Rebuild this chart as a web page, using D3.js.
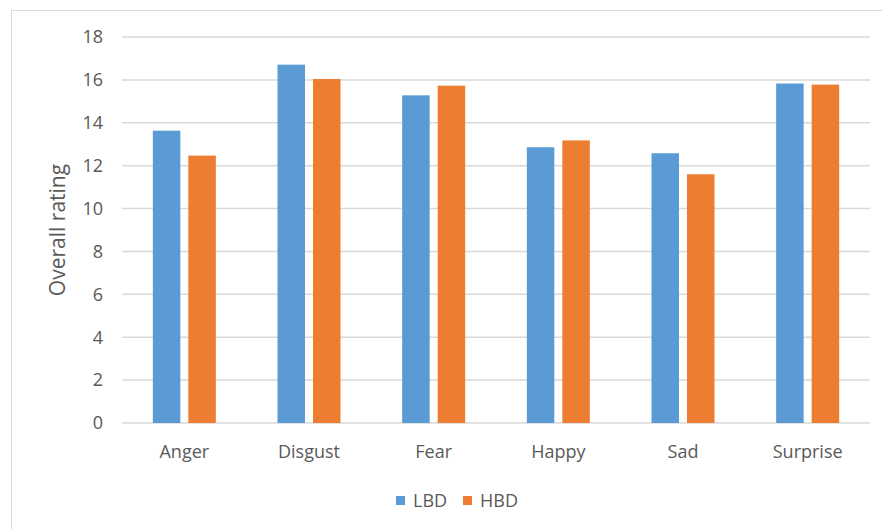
<!DOCTYPE html>
<html>
<head>
<meta charset="utf-8">
<script src="https://cdn.jsdelivr.net/npm/d3@7"></script>
<style>
    body { margin: 0; background: #fff; }
    svg text { font-family: "Open Sans", "Liberation Sans", sans-serif; fill: #595959; }
</style>
</head>
<body>
<svg id="chart" width="882" height="529"></svg>
<script>
var categories = ['Anger', 'Disgust', 'Fear', 'Happy', 'Sad', 'Surprise'];
var seriesNames = ['LBD', 'HBD'];
var lbdValues = [13.63, 16.71, 15.28, 12.86, 12.58, 15.83];
var hbdValues = [12.47, 16.04, 15.73, 13.18, 11.60, 15.78];
var yTicks = [0, 2, 4, 6, 8, 10, 12, 14, 16, 18];
var colors = ['#5B9BD5', '#ED7D31'];

var svg = d3.select('#chart');
var plotLeft = 122, plotRight = 870, plotTop = 37, plotBottom = 423;
var fontSize = 18;

// chart frame
svg.append('rect')
    .attr('x', 11.5).attr('y', 10.5)
    .attr('width', 880).attr('height', 530)
    .attr('fill', 'none')
    .attr('stroke', '#d9d9d9');

var x = d3.scaleBand().domain(categories).range([plotLeft, plotRight]);
var y = d3.scaleLinear().domain([0, 18]).range([plotBottom, plotTop]);

var barWidth = 27.5;
var barGap = 8;

// gridlines
svg.selectAll('.grid')
    .data(yTicks)
    .join('line')
    .attr('class', 'grid')
    .attr('x1', plotLeft).attr('x2', plotRight)
    .attr('y1', d => y(d)).attr('y2', d => y(d))
    .attr('stroke', '#d9d9d9')
    .attr('stroke-width', 1.5);

// y tick labels
svg.selectAll('.ytick')
    .data(yTicks)
    .join('text')
    .attr('class', 'ytick')
    .attr('x', 103)
    .attr('y', d => y(d))
    .attr('dy', '0.35em')
    .attr('text-anchor', 'end')
    .attr('font-size', fontSize)
    .text(d => d);

var rows = [];
categories.forEach(function(c, i) {
    rows.push({ cat: c, s: 0, value: lbdValues[i] });
    rows.push({ cat: c, s: 1, value: hbdValues[i] });
});

svg.selectAll('.bar')
    .data(rows)
    .join('rect')
    .attr('class', 'bar')
    .attr('x', d => {
        var center = x(d.cat) + x.bandwidth() / 2;
        return d.s === 0 ? center - barGap / 2 - barWidth : center + barGap / 2;
    })
    .attr('y', d => y(d.value))
    .attr('width', barWidth)
    .attr('height', d => y(0) - y(d.value))
    .attr('fill', d => colors[d.s]);

// category labels
svg.selectAll('.xlabel')
    .data(categories)
    .join('text')
    .attr('class', 'xlabel')
    .attr('x', d => x(d) + x.bandwidth() / 2)
    .attr('y', 458)
    .attr('text-anchor', 'middle')
    .attr('font-size', fontSize)
    .text(d => d);

// y axis title
svg.append('text')
    .attr('transform', 'translate(65,' + ((plotTop + plotBottom) / 2) + ') rotate(-90)')
    .attr('text-anchor', 'middle')
    .attr('font-size', 21)
    .text('Overall rating');

// legend
var legendX = [396, 463];
var legend = svg.selectAll('.legend')
    .data(seriesNames)
    .join('g')
    .attr('class', 'legend')
    .attr('transform', (d, i) => 'translate(' + legendX[i] + ',496)');

legend.append('rect')
    .attr('width', 9).attr('height', 9)
    .attr('fill', (d, i) => colors[i]);

legend.append('text')
    .attr('x', 17)
    .attr('y', 11)
    .attr('font-size', fontSize)
    .text(d => d);
</script>
</body>
</html>
